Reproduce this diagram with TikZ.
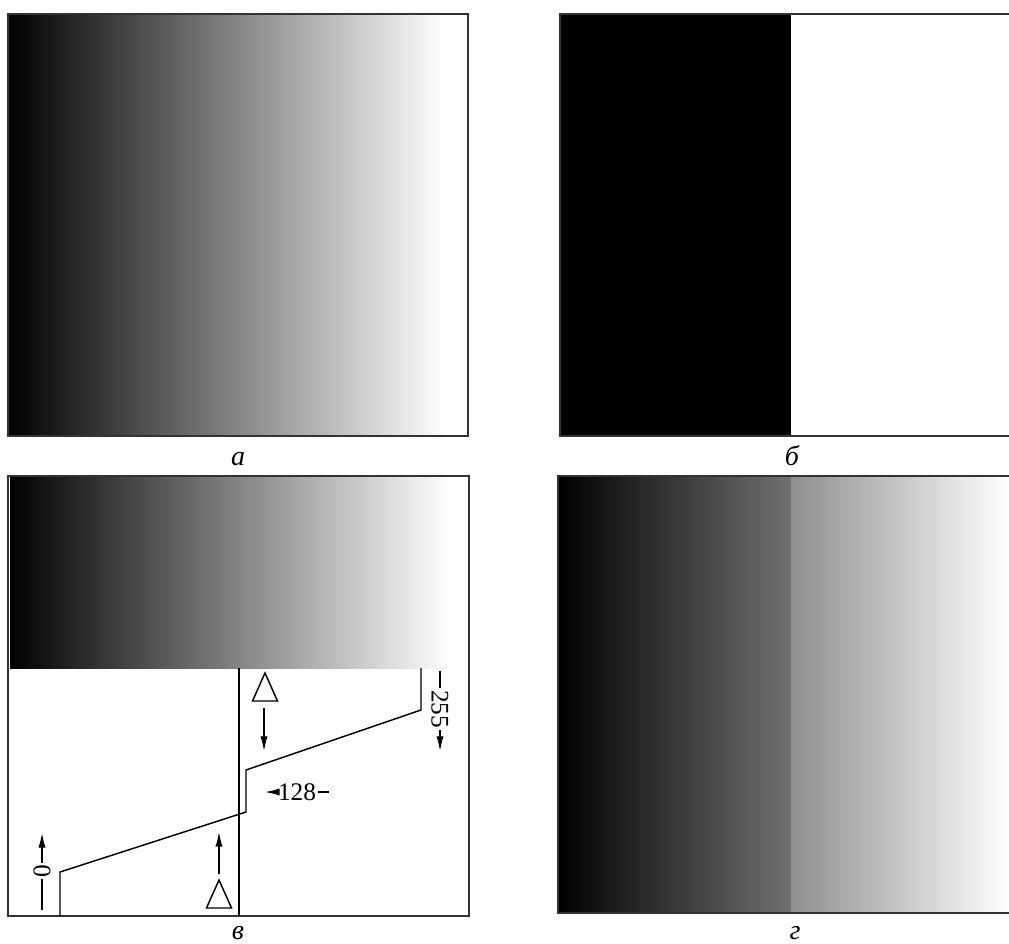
\documentclass[tikz,border=0pt]{standalone}
\usepackage{fontspec}
\setmainfont{Liberation Serif}
\usetikzlibrary{arrows.meta, positioning, calc}
\tikzset{
  img frame/.style={
    draw=black!80, line width=0.9pt
  },
  img line/.style={
    draw=black, line width=1.1pt
  },
  img arrow/.style={
    -{Latex[length=11pt,width=5.5pt]}, draw=black, line width=1.1pt
  },
  img delta/.style={
    draw=black, line width=1.1pt, line join=miter
  },
  img label/.style={
    font=\fontsize{21}{24}\selectfont\itshape, inner sep=0pt, anchor=base
  },
  img value/.style={
    font=\fontsize{19}{22}\selectfont, inner sep=1pt
  }
}

\begin{document}
\begin{tikzpicture}[x=0.75pt, y=-0.75pt]
  \useasboundingbox (0,0) rectangle (1009,944);

  % Panel a: plain ramp 0..255
  \shade [left color=black, right color=white] (8,14) rectangle (445,436);
  \draw [img frame] (8,14) rectangle (468,436);
  \node (la) [img label] at (238,465) {а};

  % Panel b: threshold at 128
  \fill [black] (560,14) rectangle (791,436);
  \draw [img frame] (560,14) rectangle (1015,436);
  \node (lb) [img label] at (792,465) {б};

  % Panel c: ramp and transfer curve
  \shade [left color=black, right color=white] (10,476) rectangle (450,668);
  \draw [img frame] (8,476) rectangle (469,916);
  \node (lc) [img label] at (238,939) {в};

  \coordinate (mtop) at (239,668);
  \coordinate (mbot) at (239,916);
  \draw [img line, line width=0.9pt] (mtop) -- (mbot);

  \coordinate (c0) at (60,916);
  \coordinate (c1) at (60,872);
  \coordinate (c2) at (246,812);
  \coordinate (c3) at (246,770);
  \coordinate (c4) at (421,710);
  \coordinate (c5) at (421,668);
  \draw [img line, line join=miter] (c0) -- (c1) -- (c2) -- (c3) -- (c4) -- (c5);

  % value marks
  \node (zero) [img value, rotate=90] at (42,871) {0};
  \coordinate (zero up) at (42,833);
  \coordinate (zero dn) at (42,910);
  \draw [img arrow] (zero) -- (zero up);
  \draw [img line] (zero) -- (zero dn);

  \node (full) [img value, rotate=-90] at (440,709) {255};
  \coordinate (full up) at (440,671);
  \coordinate (full dn) at (440,751);
  \draw [img line] (full) -- (full up);
  \draw [img arrow] (full) -- (full dn);

  \node (half) [img value] at (297,792) {128};
  \coordinate (half l) at (265,792);
  \coordinate (half r) at (329,792);
  \draw [img arrow] (half) -- (half l);
  \draw [img line] (half) -- (half r);

  % shift marks
  \coordinate (dup) at (265,687);
  \draw [img delta] (dup) ++(0,-14) -- ++(12.5,28) -- ++(-25,0) -- cycle;
  \coordinate (dup a) at (264,708);
  \coordinate (dup b) at (264,751);
  \draw [img arrow] (dup a) -- (dup b);

  \coordinate (ddn) at (219,894);
  \draw [img delta] (ddn) ++(0,-14) -- ++(12.5,28) -- ++(-25,0) -- cycle;
  \coordinate (ddn a) at (219,874);
  \coordinate (ddn b) at (219,832);
  \draw [img arrow] (ddn a) -- (ddn b);

  % Panel d: ramp with step at the middle
  \shade [left color=black, right color=black!56] (558,476) rectangle (791,913);
  \shade [left color=black!44, right color=white] (791,476) rectangle (1009,913);
  \draw [img frame] (558,476) rectangle (1015,913);
  \node (ld) [img label] at (795,939) {г};
\end{tikzpicture}
\end{document}
